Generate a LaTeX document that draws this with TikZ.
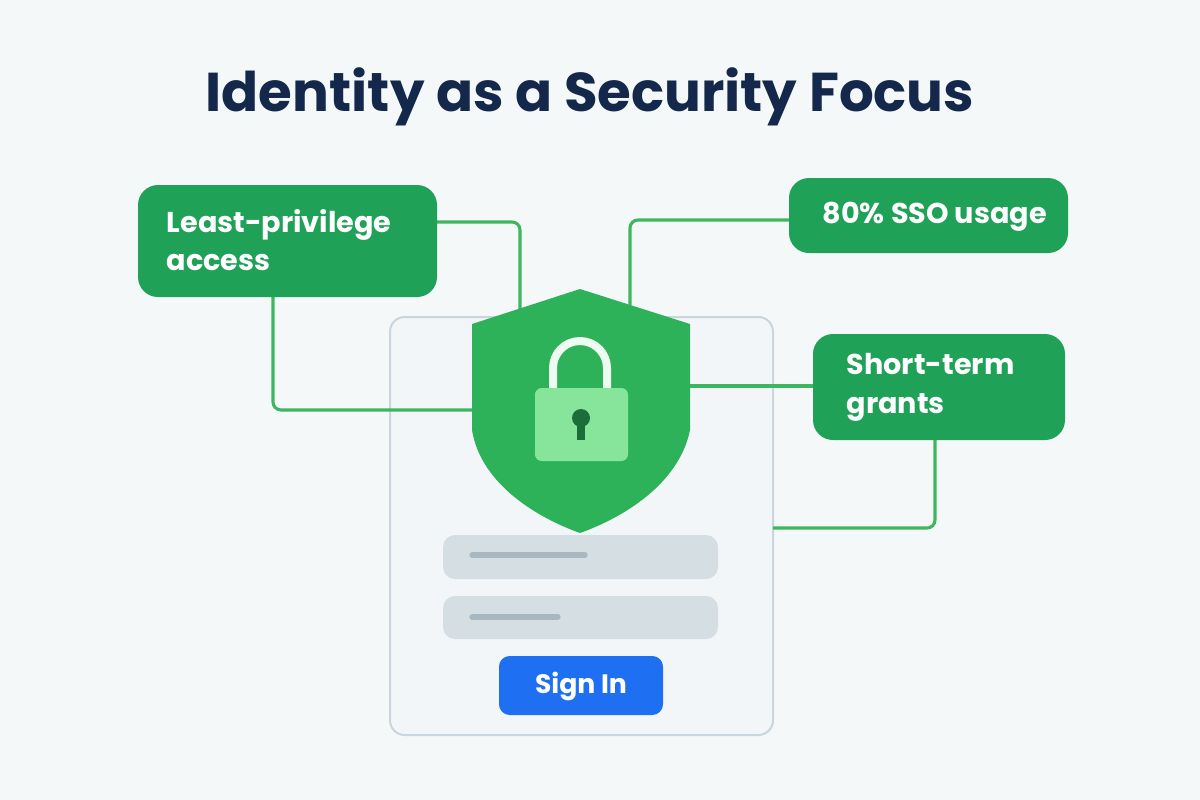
\documentclass[tikz,border=0pt]{standalone}
\usepackage{fontspec}
\setmainfont{Poppins}
\definecolor{bg}{HTML}{F5F8F9}
\definecolor{navy}{HTML}{14284B}
\definecolor{gbox}{HTML}{1FA158}
\definecolor{gline}{HTML}{3DB65F}
\definecolor{shield}{HTML}{2DB25A}
\definecolor{lockb}{HTML}{86E59A}
\definecolor{keyh}{HTML}{1B6E3A}
\definecolor{cardb}{HTML}{C9D6DD}
\definecolor{cardf}{HTML}{F3F6F8}
\definecolor{field}{HTML}{D5DEE3}
\definecolor{fline}{HTML}{A9B7C0}
\definecolor{btn}{HTML}{1F6FF2}
\begin{document}
\begin{tikzpicture}[x=0.75pt,y=-0.75pt,
  gb/.style={fill=gbox,rounded corners=15pt},
  lbl/.style={text=white,font=\fontsize{21.5}{29}\selectfont\bfseries,align=left,anchor=west},
  conn/.style={draw=gline,line width=2.3pt,rounded corners=6pt}]
\fill[bg] (0,0) rectangle (1200,800);
\useasboundingbox (0,0) rectangle (1200,800);
\node[text=navy,font=\fontsize{41}{48}\selectfont\bfseries] (title) at (590,97) {Identity as a Security Focus};
% card
\draw[draw=cardb,fill=cardf,line width=1.5pt,rounded corners=11pt] (390,317) rectangle (773,735);
% connectors
\coordinate (c1a) at (437,222); \coordinate (c1b) at (520,310);
\coordinate (c2a) at (273,297); \coordinate (c2b) at (474,410);
\coordinate (c3a) at (789,220); \coordinate (c3b) at (630,305);
\coordinate (c4a) at (813,386); \coordinate (c4b) at (688,386);
\coordinate (c5a) at (935,440); \coordinate (c5b) at (773,528);
\draw[conn] (c1a) -| (c1b);
\draw[conn] (c2a) |- (c2b);
\draw[conn] (c3a) -| (c3b);
\draw[conn] (c4a) -- (c4b);
\draw[conn] (c5a) |- (c5b);
% boxes
\fill[gb] (138,185) rectangle (437,297);
\node[lbl] (b1) at (162,240) {Least-privilege\\access};
\fill[gb] (789,178) rectangle (1068,253);
\node[lbl] (b2) at (818,217) {80\% SSO usage};
\fill[gb] (813,334) rectangle (1065,440);
\node[lbl] (b3) at (842,387) {Short-term\\grants};
% shield
\fill[shield] (580,289) -- (690,324) -- (690,430) .. controls (680,480) and (630,515) .. (580,533)
  .. controls (530,515) and (480,480) .. (472,430) -- (472,324) -- cycle;
% lock
\draw[draw=white!85!lockb,line width=6pt] (553,392) -- (553,368) arc (180:360:27) -- (607,392);
\fill[lockb,rounded corners=5pt] (535,388) rectangle (628,461);
\fill[keyh] (581,418) circle (9);
\fill[keyh] (577,418) rectangle (585,440);
% fields
\fill[field,rounded corners=9pt] (443,535) rectangle (718,579);
\draw[fline,line width=4pt,line cap=round] (472,555) -- (585,555);
\fill[field,rounded corners=9pt] (443,596) rectangle (718,639);
\draw[fline,line width=4pt,line cap=round] (472,617) -- (558,617);
\fill[btn,rounded corners=8pt] (499,656) rectangle (663,715);
\node[text=white,font=\fontsize{20}{24}\selectfont\bfseries] (sign) at (581,686) {Sign In};
\end{tikzpicture}
\end{document}
